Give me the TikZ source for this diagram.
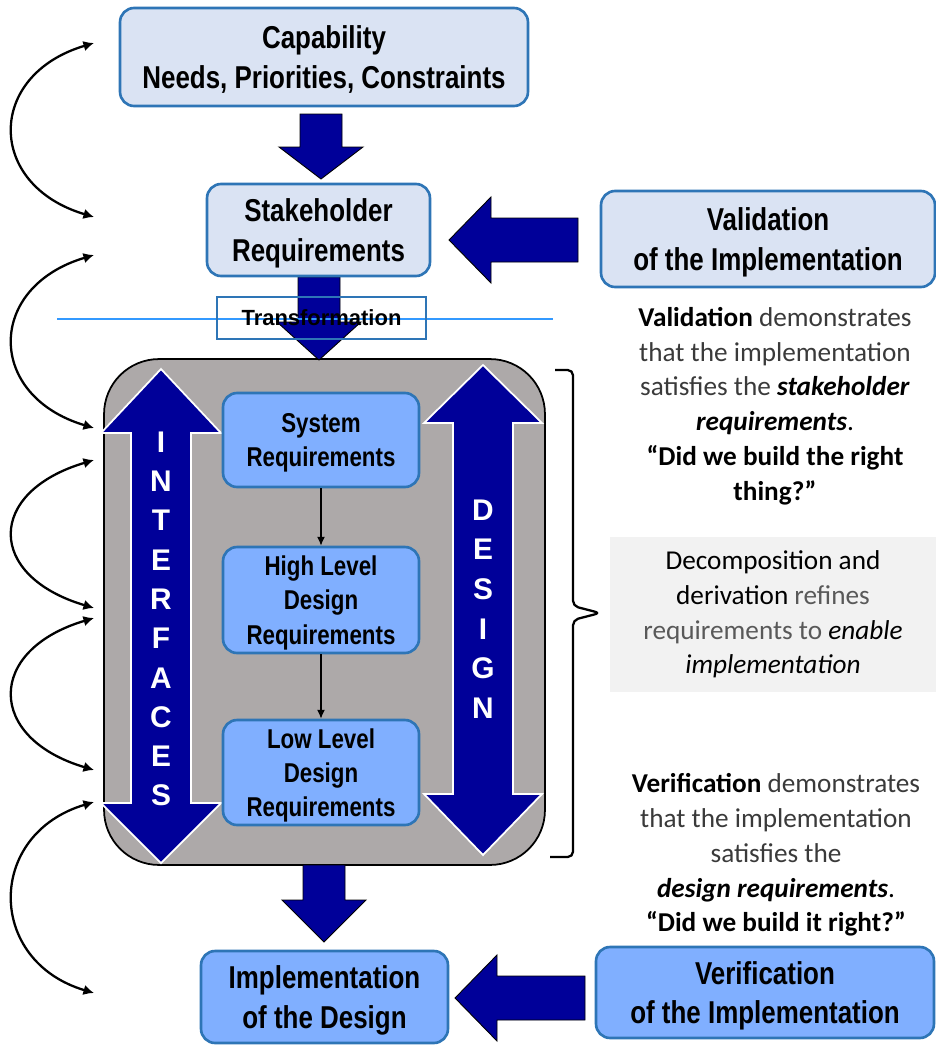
\documentclass[tikz,border=0pt]{standalone}
\usepackage{fontspec}
\setmainfont{Carlito}
\newfontfamily\boxfont[FakeStretch=0.82]{Liberation Sans}
\newfontfamily\headfont{Liberation Sans}
\usetikzlibrary{arrows.meta,calc}
\definecolor{BoxEdge}{HTML}{2E75B6}
\definecolor{BoxPale}{HTML}{DAE3F3}
\definecolor{BoxBright}{HTML}{80AFFF}
\definecolor{Navy}{HTML}{000099}
\definecolor{CoreGray}{HTML}{ADA9A9}
\definecolor{NoteGray}{HTML}{F2F2F2}
\definecolor{InkSoft}{HTML}{3A3A3A}
\definecolor{InkPale}{HTML}{595959}
\definecolor{RuleBlue}{HTML}{3399FF}

\tikzset{
  palebox/.style={draw=BoxEdge, fill=BoxPale, line width=1.5pt, rounded corners=8pt,
    align=center, inner sep=0pt, text depth=-1.2pt, font=\boxfont\bfseries\fontsize{18}{22.4}\selectfont},
  brightbox/.style={palebox, fill=BoxBright},
  reqbox/.style={brightbox, minimum width=3.92cm, font=\boxfont\bfseries\fontsize{15.5}{19.5}\selectfont},
  coreblock/.style={draw=black, fill=CoreGray, line width=1pt, rounded corners=1.1cm,
    minimum width=8.82cm, minimum height=10.12cm, inner sep=0pt},
  navyarrow/.style={fill=Navy, draw=black, line width=0.5pt},
  duplex/.style={fill=Navy, draw=white, line width=1pt},
  vletter/.style={text=white, inner sep=0pt, font=\headfont\bfseries\fontsize{17}{17}\selectfont},
  note/.style={align=center, inner sep=0pt, font=\fontsize{15.5}{19.8}\selectfont},
  swing/.style={{Latex[length=6pt,width=6pt]}-{Latex[length=6pt,width=6pt]}, line width=1.3pt},
  thinlink/.style={-{Latex[length=5pt,width=4.5pt]}, line width=0.8pt},
}

\begin{document}
\begin{tikzpicture}[x=0.02cm, y=-0.02cm]
  \useasboundingbox (0,0) rectangle (936,1045);

  % grey block with the two double arrows
  \node[coreblock] (core) at (324.5,612) {};
  \foreach \cx/\ya/\yb/\yc/\yd/\hw in {161/369/433/803/863/60, 483/365/423/794/855/59}
    \filldraw[duplex] (\cx,\ya) -- (\cx+\hw,\yb) -- (\cx+30,\yb) -- (\cx+30,\yc) -- (\cx+\hw,\yc)
      -- (\cx,\yd) -- (\cx-\hw,\yc) -- (\cx-30,\yc) -- (\cx-30,\yb) -- (\cx-\hw,\yb) -- cycle;
  \foreach \l [count=\i from 0] in {I,N,T,E,R,F,A,C,E,S}
    \node[vletter] (face\i) at (161,442+39.3*\i) {\l};
  \foreach \l [count=\i from 0] in {D,E,S,I,G,N}
    \node[vletter] (dsgn\i) at (483,510+39.6*\i) {\l};

  % big arrows
  \foreach \cx/\ya/\yb/\yc in {321/114/147/179, 319/277/322/360, 324/865/900/942}
    \fill[navyarrow] (\cx-21,\ya) -- (\cx+21,\ya) -- (\cx+21,\yb) -- (\cx+42,\yb) -- (\cx,\yc)
      -- (\cx-42,\yb) -- (\cx-21,\yb) -- cycle;
  \foreach \tx/\ty/\bx/\ex in {449/240/491/578, 455/998/497/585}
    \fill[navyarrow] (\tx,\ty) -- (\bx,\ty-43) -- (\bx,\ty-22) -- (\ex,\ty-22) -- (\ex,\ty+22)
      -- (\bx,\ty+22) -- (\bx,\ty+43) -- cycle;

  \node[palebox, minimum width=8.16cm, minimum height=1.96cm] (cap) at (324,57)
    {Capability\\Needs, Priorities, Constraints};
  \node[palebox, minimum width=4.46cm, minimum height=1.84cm] (stake) at (318.5,230)
    {Stakeholder\\Requirements};
  \node[palebox, minimum width=6.68cm, minimum height=1.92cm] (valid) at (768,239)
    {Validation\\of the Implementation};

  \draw[RuleBlue, line width=1.6pt] (57,319) -- (553,319);
  \node[draw=BoxEdge, line width=0.8pt, minimum width=4.18cm, minimum height=0.84cm, inner sep=0pt,
    font=\headfont\bfseries\fontsize{12.5}{15}\selectfont] (transf) at (321.5,318) {Transformation};

  \node[reqbox, minimum height=1.88cm] (sysreq) at (321,440) {System\\Requirements};
  \node[reqbox, minimum height=2.12cm] (hlreq) at (321,600) {High Level\\Design\\Requirements};
  \node[reqbox, minimum height=2.1cm] (llreq) at (321,772.5) {Low Level\\Design\\Requirements};
  \draw[thinlink] (sysreq) -- (hlreq);
  \draw[thinlink] (hlreq) -- (llreq);

  \node[brightbox, minimum width=4.94cm, minimum height=1.84cm] (impl) at (324.5,997)
    {Implementation\\of the Design};
  \node[brightbox, minimum width=6.76cm, minimum height=1.82cm] (verif) at (765,992.5)
    {Verification\\of the Implementation};

  % looping arrows on the left
  \foreach \i/\ya/\yb in {1/43/217, 2/255/428, 3/460/608, 4/618/770, 5/802/993}{
    \coordinate (up\i) at (94,\ya);
    \coordinate (dn\i) at (94,\yb);
    \draw[swing] (up\i) .. controls +(-108,32) and +(-108,-32) .. (dn\i);
  }

  % brace and notes
  \draw[line width=1.3pt, rounded corners=3pt] (555,370) -- (573,370) -- (573,606) -- (600,613)
    -- (573,620) -- (573,857) -- (550,857);
  \node[note] (valnote) at (775,406) {\textbf{Validation} \textcolor{InkSoft}{demonstrates}\\
    \textcolor{InkSoft}{that the implementation}\\
    \textcolor{InkSoft}{satisfies the} \textbf{\textit{stakeholder}}\\
    \textbf{\textit{requirements}}.\\
    \textbf{“Did we build the right}\\
    \textbf{thing?”}};
  \node[note, fill=NoteGray, minimum width=6.52cm, minimum height=3.1cm] (decomp) at (773,614.5)
    {Decomposition and\\
    derivation \textcolor{InkPale}{refines}\\
    \textcolor{InkPale}{requirements to} \textit{enable}\\
    \textit{implementation}};
  \node[note] (vernote) at (776,855) {\textbf{Verification} \textcolor{InkSoft}{demonstrates}\\
    \textcolor{InkSoft}{that the implementation}\\
    \textcolor{InkSoft}{satisfies the}\\
    \textbf{\textit{design requirements}}.\\
    \textbf{“Did we build it right?”}};
\end{tikzpicture}
\end{document}
